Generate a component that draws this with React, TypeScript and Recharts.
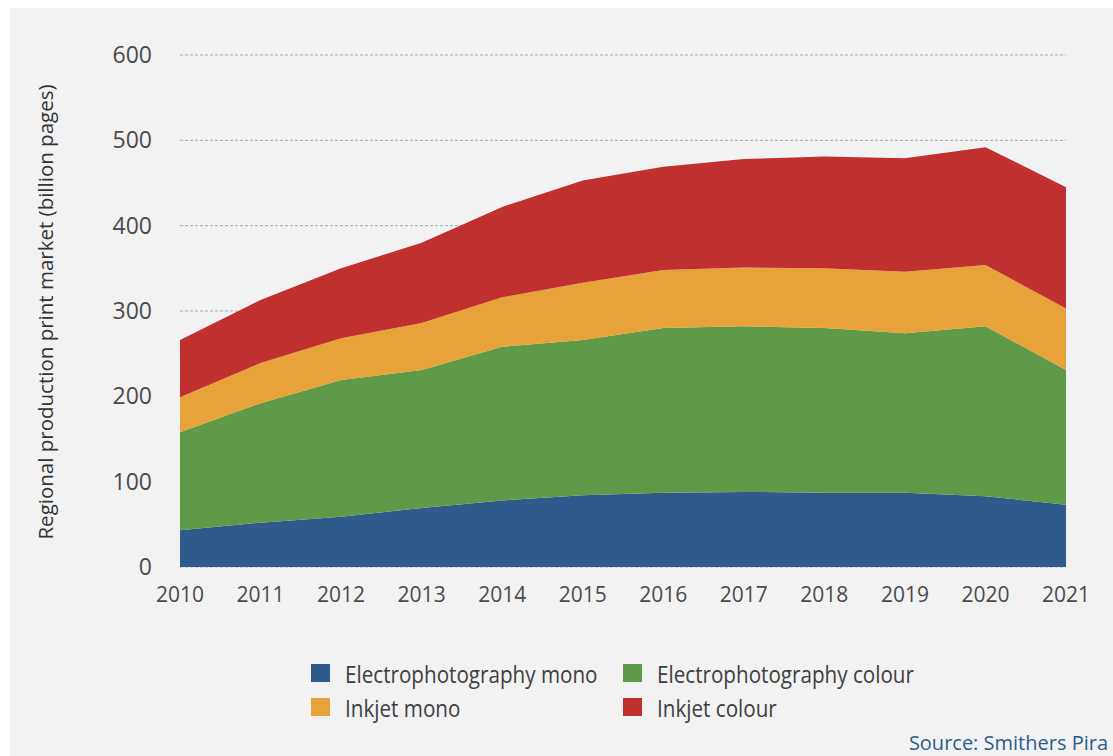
import { AreaChart, Area, XAxis, YAxis, CartesianGrid } from "recharts";

// years on the x axis
const years = ["2010", "2011", "2012", "2013", "2014", "2015", "2016", "2017", "2018", "2019", "2020", "2021"];

// billion pages
const epMono = [43, 52, 59, 69, 78, 84, 87, 88, 87, 87, 83, 73];
const epColour = [115, 140, 160, 162, 180, 182, 193, 194, 193, 187, 199, 158];
const inkjetMono = [41, 47, 49, 55, 58, 67, 68, 69, 70, 72, 72, 72];
const inkjetColour = [67, 74, 82, 94, 106, 120, 121, 127, 131, 133, 138, 142];

const yTicks = [0, 100, 200, 300, 400, 500, 600];

const series = [
  { key: "epMono", name: "Electrophotography mono", color: "#2e5a8c" },
  { key: "epColour", name: "Electrophotography colour", color: "#5e9a48" },
  { key: "inkjetMono", name: "Inkjet mono", color: "#e8a23a" },
  { key: "inkjetColour", name: "Inkjet colour", color: "#c0302f" },
];

const data = years.map((year, i) => ({
  year,
  epMono: epMono[i],
  epColour: epColour[i],
  inkjetMono: inkjetMono[i],
  inkjetColour: inkjetColour[i],
}));

const font = '"Open Sans", "Noto Sans", sans-serif';

export default function App() {
  return (
    <div
      style={{
        position: "absolute",
        left: 10,
        top: 8,
        width: 1103,
        height: 748,
        background: "#f2f2f3",
        fontFamily: font,
      }}
    >
      <div
        style={{
          position: "absolute",
          left: 35 - 260,
          top: 304 - 14,
          width: 520,
          height: 28,
          lineHeight: "28px",
          textAlign: "center",
          transform: "rotate(-90deg)",
          fontSize: 20.5,
          color: "#333",
          whiteSpace: "nowrap",
        }}
      >
        Regional production print market (billion pages)
      </div>
      <AreaChart
        width={1103}
        height={610}
        data={data}
        margin={{ top: 47, right: 47, bottom: 10, left: 0 }}
      >
        <CartesianGrid
          vertical={false}
          stroke="#a8a8a8"
          strokeDasharray="3 2"
        />
        <XAxis
          dataKey="year"
          height={41}
          tickLine={false}
          axisLine={false}
          tickMargin={14}
          tick={{ fill: "#4a4a4a", fontSize: 21, fontFamily: font }}
          interval={0}
        />
        <YAxis
          width={170}
          domain={[0, 600]}
          ticks={yTicks}
          tickLine={false}
          axisLine={false}
          tickMargin={22}
          tick={{ fill: "#4a4a4a", fontSize: 23, fontFamily: font }}
        />
        {series.map((s) => (
          <Area
            key={s.key}
            dataKey={s.key}
            name={s.name}
            stackId="1"
            type="linear"
            stroke="none"
            fill={s.color}
            fillOpacity={1}
            isAnimationActive={false}
          />
        ))}
      </AreaChart>
      {series.map((s, i) => {
        const col = i % 2;
        const row = Math.floor(i / 2);
        return (
          <div
            key={s.key}
            style={{
              position: "absolute",
              left: col === 0 ? 301 : 613,
              top: 652 + row * 34,
              display: "flex",
              alignItems: "center",
              height: 26,
              whiteSpace: "nowrap",
            }}
          >
            <span
              style={{
                width: 19,
                height: 18,
                background: s.color,
                display: "inline-block",
                marginRight: 15,
              }}
            />
            <span
              style={{
                display: "inline-block",
                fontSize: 24,
                color: "#404040",
                transform: "scaleX(0.86)",
                transformOrigin: "left center",
              }}
            >
              {s.name}
            </span>
          </div>
        );
      })}
      <div
        style={{
          position: "absolute",
          right: 5,
          top: 721,
          fontSize: 20,
          color: "#2b5d8f",
          whiteSpace: "nowrap",
        }}
      >
        Source: Smithers Pira
      </div>
    </div>
  );
}
